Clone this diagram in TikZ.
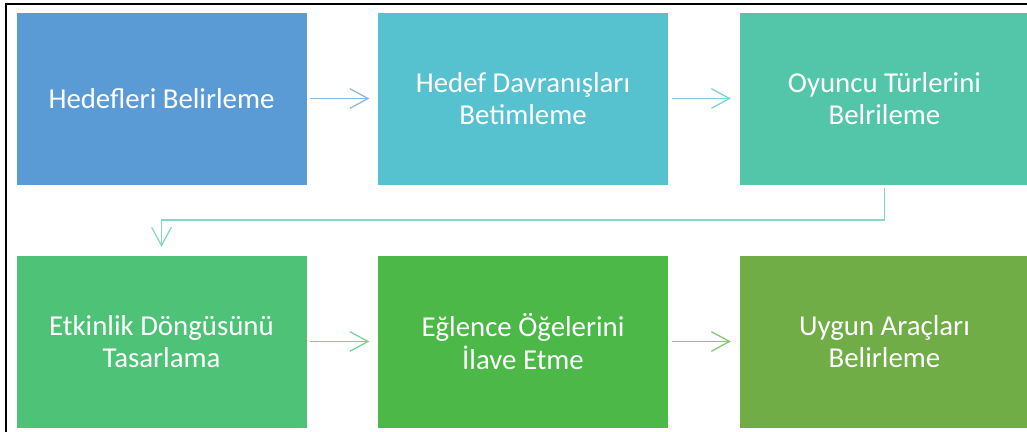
\documentclass[tikz,border=0pt]{standalone}
\usepackage{fontspec}
\setmainfont{Carlito}
\usetikzlibrary{arrows.meta,positioning}

\definecolor{stepA}{HTML}{5B9BD5}
\definecolor{stepB}{HTML}{56C1CF}
\definecolor{stepC}{HTML}{53C6A9}
\definecolor{stepD}{HTML}{4EC276}
\definecolor{stepE}{HTML}{4CB848}
\definecolor{stepF}{HTML}{70AD47}

\tikzset{
  stage/.style={rectangle, minimum width=7.275cm, minimum height=4.325cm,
    draw=white, line width=0.5pt, text=white, align=center,
    font=\fontsize{20.5}{23}\selectfont},
  flow/.style={line width=0.9pt, -{Straight Barb[length=13pt,width=14pt]},
    shorten <=2pt, shorten >=5.5pt}
}

\begin{document}
\begin{tikzpicture}
    \useasboundingbox (0,0) rectangle (25.675,10.8);
    \clip (0,0) rectangle (25.675,10.8);
    \fill[white] (0,0) rectangle (25.675,10.8);
    \draw[line width=1pt] (0.15,-1) rectangle (27,10.7);

    \node[stage, fill=stepA] (goal) at (4.0375,8.3375) {Hedefleri Belirleme};
    \node[stage, fill=stepB] (behav) at (13.075,8.3375) {Hedef Davranışları\\Betimleme};
    \node[stage, fill=stepC] (player) at (22.1125,8.3375) {Oyuncu Türlerini\\Belrileme};
    \node[stage, fill=stepD] (loop) at (4.0375,2.2625) {Etkinlik Döngüsünü\\Tasarlama};
    \node[stage, fill=stepE] (fun) at (13.075,2.2625) {Eğlence Öğelerini\\İlave Etme};
    \node[stage, fill=stepF] (tools) at (22.1125,2.2625) {Uygun Araçları\\Belirleme};
    \coordinate (bend) at (4.0375,5.3);

    \draw[flow, color=stepA!70] (goal) -- (behav);
    \draw[flow, color=stepB!75] (behav) -- (player);
    \draw[flow, color=stepC!70] (player.south) |- (bend) -- (loop.north);
    \draw[flow, color=stepD!75] (loop) -- (fun);
    \draw[flow, color=stepE!50!stepF!75] (fun) -- (tools);
  \end{tikzpicture}
\end{document}
